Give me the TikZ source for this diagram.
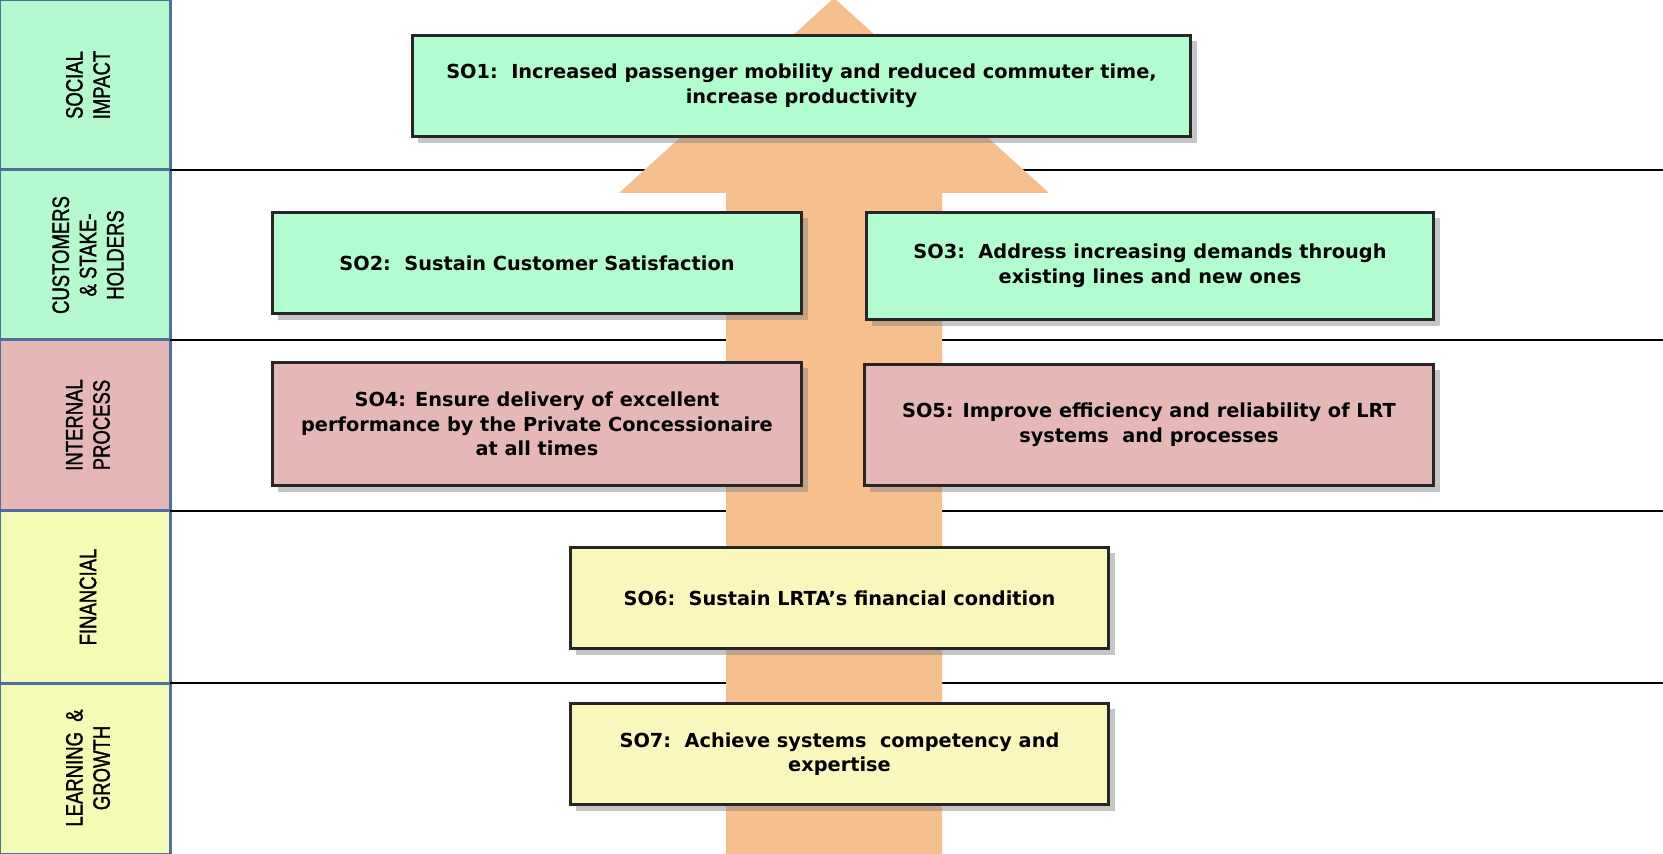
\documentclass[tikz,border=0pt]{standalone}
\usepackage{fontspec}
\setmainfont{DejaVu Sans}
\newfontfamily\narrowfont[FakeStretch=0.78, FakeBold=1.3]{Liberation Sans}
\usetikzlibrary{shadows}
\definecolor{sogreen}{HTML}{B2FDCF}
\definecolor{sopink}{HTML}{E6B7B7}
\definecolor{soyellow}{HTML}{FAF7BC}
\definecolor{lanegreen}{HTML}{B5F9CF}
\definecolor{laneyellow}{HTML}{F4FBB4}
\definecolor{laneblue}{HTML}{4F6E9E}
\definecolor{arrowpeach}{HTML}{F8BF8E}
\tikzset{
	lane/.style={draw=laneblue, line width=0.6mm},
	lanetext/.style={rotate=90, align=center, font=\narrowfont\fontsize{13.5}{15.5}\selectfont},
	sobox/.style={draw=black!85, line width=0.6mm, align=center, inner sep=0pt,
		font=\bfseries\fontsize{11}{14}\selectfont,
		drop shadow={shadow xshift=3.5pt, shadow yshift=-3.5pt, opacity=0.45}},
}

\begin{document}
\begin{tikzpicture}[x=0.02cm, y=-0.02cm]
			%%%%% START %%%%%
			\useasboundingbox (0, 0) rectangle (1663, 854);
			\clip (0, 0) rectangle (1663, 854);
			
			% lanes
			\draw[lane, fill=lanegreen] (0, 0) rectangle (170, 170);
			\draw[lane, fill=lanegreen] (0, 170) rectangle (170, 340);
			\draw[lane, fill=sopink] (0, 340) rectangle (170, 511);
			\draw[lane, fill=laneyellow] (0, 511) rectangle (170, 683);
			\draw[lane, fill=laneyellow] (0, 683) rectangle (170, 854);
			
			\node[lanetext] (social) at (88, 85) {SOCIAL\\IMPACT};
			\node[lanetext] (customers) at (88, 255) {CUSTOMERS\\\& STAKE-\\HOLDERS};
			\node[lanetext] (internal) at (88, 425) {INTERNAL\\PROCESS};
			\node[lanetext] (financial) at (88, 597) {FINANCIAL};
			\node[lanetext] (learning) at (88, 768) {LEARNING \ \&\\GROWTH};
			
			\draw[line width=0.55mm] (170, 170) -- (1663, 170);
			\draw[line width=0.55mm] (170, 340) -- (1663, 340);
			\draw[line width=0.55mm] (170, 511) -- (1663, 511);
			\draw[line width=0.55mm] (170, 683) -- (1663, 683);
			
			% big arrow
			\fill[arrowpeach] (726, 854) -- (726, 193) -- (619, 193) -- (834, -2)
				-- (1049, 193) -- (942, 193) -- (942, 854) -- cycle;
			
			% objectives
			\node[sobox, fill=sogreen, minimum width=15.58cm, minimum height=2.04cm] (so1) at (801.5, 86)
				{SO1:\ \ Increased passenger mobility and reduced commuter time,\\increase productivity};
			\node[sobox, fill=sogreen, minimum width=10.6cm, minimum height=2.04cm] (so2) at (537, 263)
				{SO2:\ \ Sustain Customer Satisfaction};
			\node[sobox, fill=sogreen, minimum width=11.36cm, minimum height=2.16cm] (so3) at (1150, 266)
				{SO3:\ \ Address increasing demands through\\existing lines and new ones};
			\node[sobox, fill=sopink, minimum width=10.6cm, minimum height=2.48cm] (so4) at (537, 424)
				{SO4: Ensure delivery of excellent\\performance by the Private Concessionaire\\at all times};
			\node[sobox, fill=sopink, minimum width=11.4cm, minimum height=2.44cm] (so5) at (1149, 425)
				{SO5: Improve efficiency and reliability of LRT\\systems\ \ and processes};
			\node[sobox, fill=soyellow, minimum width=10.78cm, minimum height=2.04cm] (so6) at (839.5, 598)
				{SO6:\ \ Sustain LRTA's financial condition};
			\node[sobox, fill=soyellow, minimum width=10.78cm, minimum height=2.04cm] (so7) at (839.5, 754)
				{SO7:\ \ Achieve systems\ \ competency and\\expertise};
			%%%%% END %%%%%
\end{tikzpicture}
\end{document}
